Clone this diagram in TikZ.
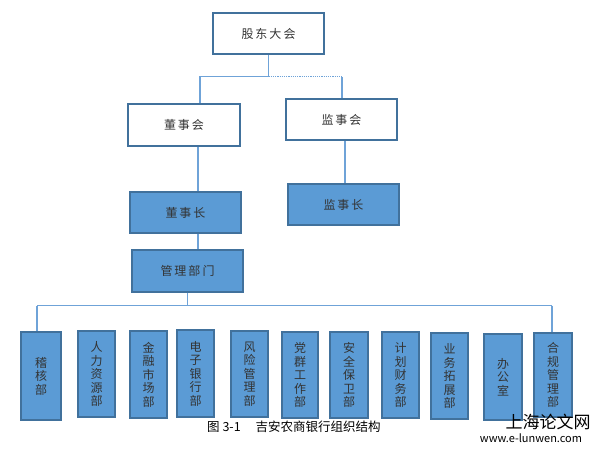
\documentclass[tikz,border=0pt]{standalone}
\usepackage{fontspec}
\setmainfont{Noto Sans CJK SC}
\usetikzlibrary{calc}
\definecolor{bord}{HTML}{41719C}
\definecolor{boxfill}{HTML}{5B9BD5}
\definecolor{conn}{HTML}{6FA3D8}
\definecolor{txt}{HTML}{333333}
\begin{document}
\begin{tikzpicture}[x=1pt,y=-1pt,
  topbox/.style={draw=bord,line width=1.6pt,fill=white,minimum width=111pt,minimum height=41pt,inner sep=0pt,text=txt,font=\fontsize{12}{14}\selectfont},
  midbox/.style={draw=bord,line width=1.4pt,fill=boxfill,minimum width=111pt,minimum height=41pt,inner sep=0pt,text=txt,font=\fontsize{12}{14}\selectfont},
  dept/.style={draw=bord,line width=1.4pt,fill=boxfill,minimum width=37pt,minimum height=86pt,inner sep=0pt,text=txt,align=center,font=\fontsize{12}{13.5}\selectfont},
  link/.style={draw=conn,line width=1.2pt},
  dlink/.style={draw=conn,line width=1.2pt,densely dotted}]
\useasboundingbox (0,0) rectangle (592,449);
\fill[white] (0,0) rectangle (592,449);

\node[topbox] (gd) at (268.5,33.5) {股\,东\,大\,会};
\node[topbox,minimum width=112pt,minimum height=42pt] (dsh) at (184,125) {董\,事\,会};
\node[topbox] (jsh) at (341.5,119.5) {监\,事\,会};
\node[midbox] (dsz) at (185.5,212.5) {董\,事\,长};
\node[midbox] (jsz) at (343.5,204.5) {监\,事\,长};
\node[midbox,minimum height=42pt] (glbm) at (187.5,271) {管\,理\,部\,门};

\node[dept,minimum width=40pt,minimum height=88pt] (d1) at (41,376) {稽\\核\\部};
\node[dept] (d2) at (96.5,374) {人\\力\\资\\源\\部};
\node[dept,minimum height=87pt] (d3) at (148.5,374.5) {金\\融\\市\\场\\部};
\node[dept,minimum height=87pt] (d4) at (195.5,373.5) {电\\子\\银\\行\\部};
\node[dept] (d5) at (249.5,374) {风\\险\\管\\理\\部};
\node[dept,minimum width=36pt] (d6) at (300,375) {党\\群\\工\\作\\部};
\node[dept,minimum width=38pt] (d7) at (349,375) {安\\全\\保\\卫\\部};
\node[dept] (d8) at (400.5,375) {计\\划\\财\\务\\部};
\node[dept] (d9) at (449.5,376) {业\\务\\拓\\展\\部};
\node[dept,minimum width=38pt] (d10) at (503,377) {办\\公\\室};
\node[dept,minimum width=38pt,minimum height=84pt] (d11) at (553,375) {合\\规\\管\\理\\部};

% top connectors
\coordinate (j1) at ($(gd.south)+(0,22)$);
\coordinate (j1r) at ([xshift=0.5pt]jsh.north |- j1);
\draw[link] (gd.south) -- (j1);
\draw[link] (j1) -| ([xshift=16pt]dsh.north);
\draw[dlink] (j1) -- (j1r);
\draw[link] (j1r) -- ([xshift=0.5pt]jsh.north);
\draw[link] ([xshift=14pt]dsh.south) -- ([xshift=14pt]dsh.south |- dsz.north);
\draw[link] ([xshift=3.5pt]jsh.south) -- ([xshift=3.5pt]jsh.south |- jsz.north);
\draw[link] ([xshift=12.5pt]dsz.south) -- ([xshift=12.5pt]dsz.south |- glbm.north);

% bottom connectors
\coordinate (j2) at ($(glbm.south)+(0,13)$);
\draw[link] (glbm.south) -- (j2);
\draw[link,line width=1.5pt] ([xshift=-4pt]d1.north |- j2) -- ([xshift=-1pt]d11.north |- j2);
\draw[link] ([xshift=-4pt]d1.north |- j2) -- ([xshift=-4pt]d1.north);
\draw[link] ([xshift=-1pt]d11.north |- j2) -- ([xshift=-1pt]d11.north);

% caption
\node[anchor=west,font=\fontsize{12.5}{14}\selectfont,text=black,inner sep=0pt] (cap) at (207,427) {图 3-1\hspace{1.2em}吉安农商银行组织结构};

% watermark
\node[font=\fontsize{17}{19}\selectfont,text=black,inner sep=0pt] (wm1) at (548,422) {上海论文网};
\node[font=\fontsize{11}{12}\selectfont,text=black,inner sep=0pt] (wm2) at (531,438) {www.e-lunwen.com};
\end{tikzpicture}
\end{document}
